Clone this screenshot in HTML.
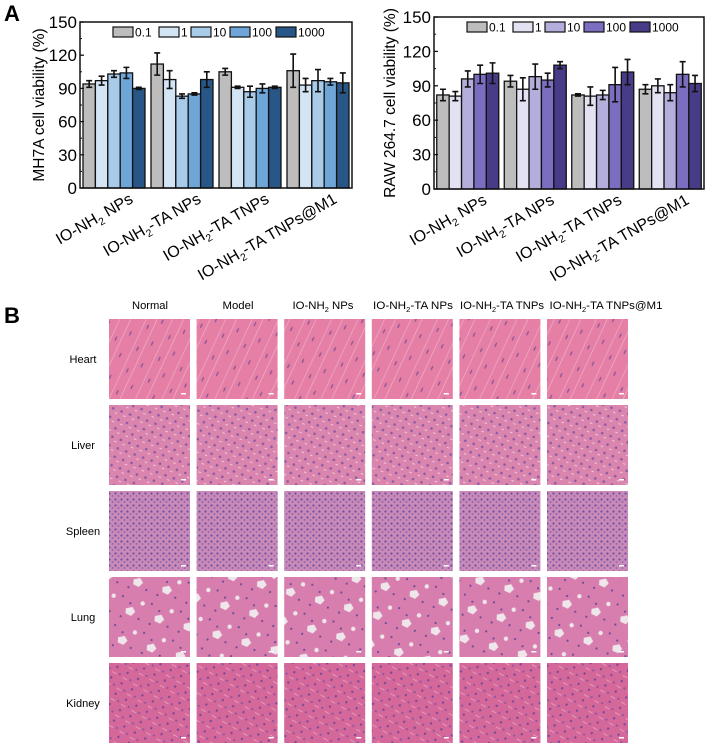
<!DOCTYPE html>
<html><head><meta charset="utf-8">
<style>
body{margin:0;background:#fff;font-family:"Liberation Sans",Arial,sans-serif;}
#wrap{position:relative;width:722px;height:755px;overflow:hidden;background:#fff;}
svg text{font-family:"Liberation Sans",Arial,sans-serif;}
</style></head>
<body>
<div id="wrap">
<svg id="fig" width="722" height="755" viewBox="0 0 722 755">
<defs>
<pattern id="p-heart" width="24" height="24" patternUnits="userSpaceOnUse" patternTransform="rotate(-65)">
<rect width="24" height="24" fill="#e67fa6"/>
<rect y="3" width="24" height="0.8" fill="#efa6c2"/>
<rect y="13" width="24" height="0.7" fill="#f0b0c8"/>
<ellipse cx="6" cy="8" rx="2.5" ry="0.8" fill="#8a5696"/>
<ellipse cx="17" cy="19" rx="2.5" ry="0.8" fill="#8a5696"/>
</pattern>
<pattern id="p-liver" width="9" height="9" patternUnits="userSpaceOnUse" patternTransform="rotate(20)">
<rect width="9" height="9" fill="#d985ae"/>
<circle cx="3" cy="3" r="1.3" fill="#8a5aa2"/>
<rect x="6" y="6" width="2.5" height="1" fill="#f0cade"/>
</pattern>
<pattern id="p-spleen" width="6" height="6" patternUnits="userSpaceOnUse">
<rect width="6" height="6" fill="#c98ab8"/>
<circle cx="1.5" cy="1.5" r="1.1" fill="#6d4fa2"/>
<circle cx="4.5" cy="4" r="0.9" fill="#8460ac"/>
</pattern>
<pattern id="p-lung" width="30" height="30" patternUnits="userSpaceOnUse" patternTransform="rotate(15)">
<rect width="30" height="30" fill="#d87eae"/>
<circle cx="3" cy="4" r="1.1" fill="#6e4b94"/>
<circle cx="12" cy="9" r="1.1" fill="#6e4b94"/>
<circle cx="24" cy="22" r="1.1" fill="#6e4b94"/>
<circle cx="6" cy="24" r="1.1" fill="#6e4b94"/>
<path d="M9 15 l6 -3 l4 4 l-3 5 l-6 -1z" fill="#eee6ea"/>
<circle cx="24" cy="6" r="2.2" fill="#eee6ea"/>
</pattern>
<pattern id="p-kidney" width="12" height="12" patternUnits="userSpaceOnUse" patternTransform="rotate(30)">
<rect width="12" height="12" fill="#d5689a"/>
<circle cx="3" cy="3" r="1.2" fill="#7a4a98"/>
<circle cx="9" cy="8" r="1.1" fill="#8a55a2"/>
<rect x="1" y="9" width="5" height="0.8" fill="#e8a6c3"/>
</pattern>
</defs>
<text x="4" y="21" font-size="22" font-weight="bold">A</text>
<g id="chartL"></g>
<g id="chartR"></g>
<text x="4" y="323" font-size="22" font-weight="bold">B</text>
<g id="histo"></g>
</svg>
</div>
<script>
const NS="http://www.w3.org/2000/svg";
const groups=["IO-NH2 NPs","IO-NH2-TA NPs","IO-NH2-TA TNPs","IO-NH2-TA TNPs@M1"];
const conc=["0.1","1","10","100","1000"];
const yTicks=[0,30,60,90,120,150];
const mhVals=[[94,97,103,104,90],[112,98,83,85,98],[105,91,87,90,91],[106,93,97,96,95]];
const mhErr=[[3,4,3,5,1],[10,8,2,1,7],[3,1,5,4,1],[15,6,10,3,9]];
const rawVals=[[82,81,96,100,101],[94,87,98,95,108],[82,81,82,91,102],[87,90,84,100,92]];
const rawErr=[[5,4,7,8,9],[5,10,11,6,3],[1,8,4,15,11],[4,6,7,11,7]];
const mhColors=["#bdbdbd","#d3e5f5","#a9cbea","#6fa6d8","#285686"];
const rawColors=["#bdbdbd","#e3e2f2","#b3aedb","#7b6ec0","#473c88"];

function el(tag,attrs,parent){const e=document.createElementNS(NS,tag);for(const k in attrs)e.setAttribute(k,attrs[k]);parent.appendChild(e);return e;}
function labelText(parent,x,y,str,size,anchor,rot){
  const t=el("text",{x:x,y:y,"font-size":size,"text-anchor":anchor},parent);
  if(rot)t.setAttribute("transform",`rotate(${rot} ${x} ${y})`);
  const m=str.match(/^(IO-NH)2(.*)$/);
  if(m){t.appendChild(document.createTextNode(m[1]));
    const s=el("tspan",{"font-size":size*0.65,dy:size*0.25},t);s.textContent="2";
    const r=el("tspan",{dy:-size*0.25},t);r.textContent=m[2];}
  else t.textContent=str;
  return t;
}
function chart(g,opt){
  const {x0,x1,y0,y1,vals,errs,colors,ylabel,ylx}=opt;
  const ys=v=>y0-(v/150)*(y0-y1);
  const gw=(x1-x0)/groups.length, bw=12.4;
  vals.forEach((row,gi)=>{
    row.forEach((v,ci)=>{
      const cx=x0+gw*gi+gw/2-2.5*bw+ci*bw;
      const b=el("rect",{x:cx,y:ys(v),width:bw,height:y0-ys(v),fill:colors[ci],stroke:"#111","stroke-width":1.3},g);
      
      
      const mx=cx+bw/2,e=errs[gi][ci];
      const eb=el("path",{d:`M${mx} ${ys(v+e)}V${ys(v-e)}M${mx-3} ${ys(v+e)}h6M${mx-3} ${ys(v-e)}h6`,stroke:"#111","stroke-width":1.6,fill:"none"},g);
      
      
    });
  });
  el("rect",{x:x0,y:y1,width:x1-x0,height:y0-y1,fill:"none",stroke:"#111","stroke-width":1.5},g);
  yTicks.forEach(v=>{
    el("line",{x1:x0,x2:x0+4,y1:ys(v),y2:ys(v),stroke:"#111","stroke-width":1.3},g);
    if(v<150){el("line",{x1:x0,x2:x0+2,y1:ys(v+15),y2:ys(v+15),stroke:"#111","stroke-width":1},g);}
    const t=el("text",{x:x0-3,y:ys(v)+6,"font-size":17,"text-anchor":"end"},g);
    
    
    t.textContent=v;
  });
  groups.forEach((n,gi)=>{
    const cx=x0+gw*gi+gw/2;
    const t=labelText(g,cx+20,y0+14,n,16,"end",-30);
    
    
  });
  const yl=el("text",{x:ylx,y:(y0+y1)/2,"font-size":15.5,"text-anchor":"middle",transform:`rotate(-90 ${ylx} ${(y0+y1)/2})`},g);
  
  
  yl.textContent=ylabel;
  let lx=x0+33;
  conc.forEach((c,i)=>{
    const r=el("rect",{x:lx,y:y1+5,width:20,height:10,fill:colors[i],stroke:"#111","stroke-width":1.2},g);
    
    
    const t=el("text",{x:lx+22,y:y1+14.5,"font-size":12},g);
    
    
    t.textContent=c;
    lx+=22+c.length*7+3;
  });
}
chart(document.getElementById("chartL"),{x0:80,x1:352,y0:188,y1:22,vals:mhVals,errs:mhErr,colors:mhColors,ylabel:"MH7A cell viability (%)",ylx:44});
chart(document.getElementById("chartR"),{x0:434,x1:704,y0:189,y1:17,vals:rawVals,errs:rawErr,colors:rawColors,ylabel:"RAW 264.7 cell viability (%)",ylx:395});

const cols=["Normal","Model","IO-NH2 NPs","IO-NH2-TA NPs","IO-NH2-TA TNPs","IO-NH2-TA TNPs@M1"];
const rows=["Heart","Liver","Spleen","Lung","Kidney"];
const pats=["p-heart","p-liver","p-spleen","p-lung","p-kidney"];
const titleCx=[150,238,323,413,502,606];
const titleW=[36,31,61,80,84,113];
const H=document.getElementById("histo");
cols.forEach((c,ci)=>{
  const t=labelText(H,titleCx[ci]-titleW[ci]/2,309,c,11,"start",0);
  t.setAttribute("textLength",titleW[ci]);
  t.setAttribute("lengthAdjust","spacingAndGlyphs");
  
  
});
rows.forEach((r,ri)=>{
  const y=319+ri*86;
  const t=el("text",{x:83,y:y+44,"font-size":11,"text-anchor":"middle"},H);
  
  
  t.textContent=r;
  cols.forEach((c,ci)=>{
    const x=109+ci*87.6;
    const im=el("rect",{x:x,y:y,width:81,height:80,fill:`url(#${pats[ri]})`},H);
    
    
    el("rect",{x:x+72,y:y+74,width:5,height:1.5,fill:"#fff"},H);
  });
});
</script>
</body></html>
